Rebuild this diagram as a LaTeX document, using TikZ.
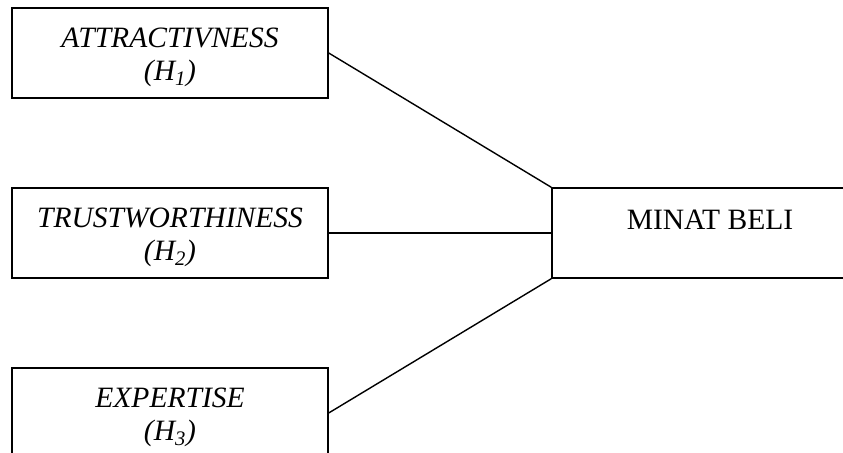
\documentclass[tikz,border=0pt]{standalone}
\usepackage{fontspec}
\setmainfont{Liberation Serif}
\usetikzlibrary{positioning}

\tikzset{
  varbox/.style={draw, rectangle, line width=1pt, minimum width=7.9cm, minimum height=2.25cm,
    align=center, text height=1.55cm, text depth=0.15cm,
    font=\fontsize{21}{23.5}\selectfont\itshape},
  link/.style={line width=1pt}
}

\begin{document}
\begin{tikzpicture}

% Frame of the page
\useasboundingbox (0, 0) rectangle (21.075, 11.325);
\clip (0, 0) rectangle (21.075, 11.325);

% Independent variables (left)
\node[varbox] (attr) at (4.25, 10) {ATTRACTIVNESS\\(H\textsubscript{1})};
\node[varbox] (trust) at (4.25, 5.5) {TRUSTWORTHINESS\\(H\textsubscript{2})};
\node[varbox] (expert) at (4.25, 1) {EXPERTISE\\(H\textsubscript{3})};

% Dependent variable (right)
\node[varbox, text height=0.5cm, text depth=0.65cm, font=\fontsize{21}{23.5}\selectfont] (minat) at (17.75, 5.5) {MINAT BELI};

% Connections
\draw[link] (attr.east) -- (minat.north west);
\draw[link] (trust.east) -- (minat.west);
\draw[link] (expert.east) -- (minat.south west);

\end{tikzpicture}
\end{document}
